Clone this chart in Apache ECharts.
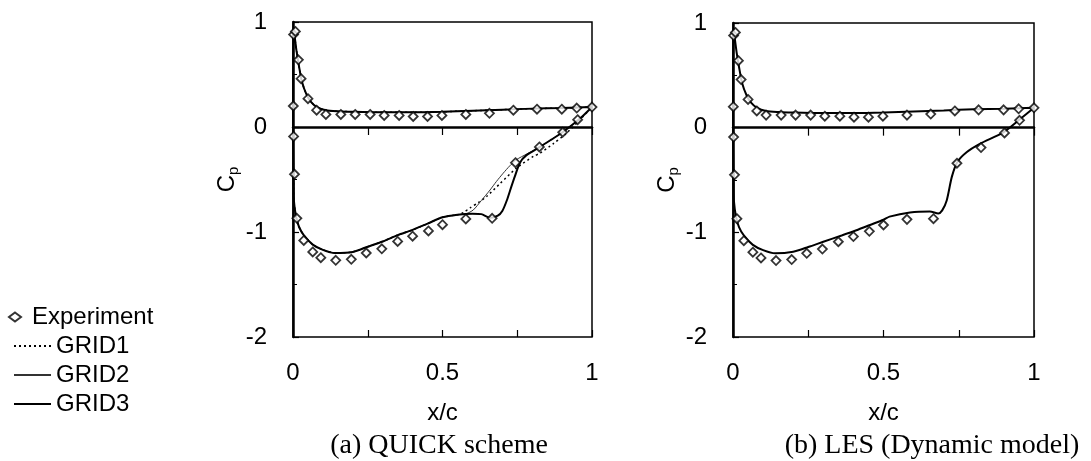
<!DOCTYPE html>
<html>
<head>
<meta charset="utf-8">
<script src="https://cdn.jsdelivr.net/npm/echarts@6/dist/echarts.min.js"></script>
<style>
  html, body { margin: 0; padding: 0; background: #fff; }
  #chart { width: 1091px; height: 461px; }
</style>
</head>
<body>
<div id="chart"></div>
<script>
// experiment (same measured points in both panels): upper surface, then lower
const expX = [0.002, 0.008, 0.018, 0.027, 0.05, 0.079, 0.11, 0.16, 0.208, 0.258, 0.305, 0.355, 0.402, 0.45, 0.498, 0.578, 0.657, 0.737, 0.816, 0.899, 0.949, 1.0,
  0.001, 0.002, 0.005, 0.013, 0.036, 0.066, 0.093, 0.143, 0.195, 0.245, 0.297, 0.35, 0.40, 0.453, 0.50, 0.578, 0.666, 0.744, 0.824, 0.902, 0.952];
const expY = [0.88, 0.91, 0.64, 0.46, 0.27, 0.16, 0.12, 0.12, 0.12, 0.12, 0.11, 0.11, 0.10, 0.10, 0.11, 0.12, 0.13, 0.16, 0.17, 0.17, 0.18, 0.19,
  0.20, -0.09, -0.45, -0.87, -1.08, -1.19, -1.245, -1.27, -1.26, -1.20, -1.16, -1.09, -1.04, -0.99, -0.93, -0.876, -0.87, -0.34, -0.19, -0.05, 0.07];

// computed curves: upper surface from trailing edge to leading edge, down the nose
const upperX = [1.0, 0.95, 0.9, 0.8, 0.7, 0.6, 0.5, 0.4, 0.3, 0.2, 0.15, 0.11, 0.08, 0.06, 0.045, 0.03, 0.02, 0.012, 0.006, 0.002, 0.0005, 0.0, 0.0005, 0.002];
const upperY = [0.19, 0.185, 0.18, 0.175, 0.165, 0.155, 0.145, 0.14, 0.14, 0.145, 0.15, 0.16, 0.19, 0.24, 0.31, 0.43, 0.58, 0.72, 0.85, 0.92, 0.6, 0.2, -0.2, -0.55];

// lower surface, common part for the three grids
const lowerX = [0.003, 0.01, 0.02, 0.036, 0.066, 0.1, 0.14, 0.2, 0.25, 0.3, 0.35, 0.4, 0.45, 0.5, 0.55];
const lowerY = [-0.7, -0.85, -0.95, -1.03, -1.12, -1.17, -1.2, -1.19, -1.14, -1.09, -1.03, -0.98, -0.92, -0.86, -0.835];

// rear part of the lower surface for each grid
const grid1X = [0.57, 0.592, 0.62, 0.648, 0.692, 0.748, 0.804, 0.826, 0.87, 0.91, 0.95, 1.0];
const grid1Y = [-0.815, -0.77, -0.72, -0.66, -0.54, -0.39, -0.28, -0.25, -0.16, -0.07, 0.04, 0.19];
const grid2X = [0.58, 0.603, 0.63, 0.659, 0.68, 0.703, 0.725, 0.748, 0.78, 0.826, 0.864, 0.904, 0.96, 1.0];
const grid2Y = [-0.825, -0.79, -0.70, -0.60, -0.52, -0.44, -0.37, -0.31, -0.26, -0.19, -0.12, -0.045, 0.08, 0.19];
const grid3X = [0.6, 0.63, 0.66, 0.685, 0.7, 0.715, 0.73, 0.742, 0.759, 0.78, 0.826, 0.864, 0.904, 0.96, 1.0];
const grid3Y = [-0.825, -0.83, -0.865, -0.845, -0.8, -0.70, -0.57, -0.47, -0.34, -0.27, -0.19, -0.12, -0.045, 0.08, 0.19];

// LES lower surface
const lesX = [0.003, 0.01, 0.02, 0.036, 0.066, 0.1, 0.14, 0.2, 0.25, 0.3, 0.361, 0.41, 0.455, 0.5, 0.52, 0.588, 0.654, 0.682, 0.695, 0.71, 0.727, 0.745, 0.776, 0.82, 0.898, 0.953, 1.0];
const lesY = [-0.7, -0.85, -0.95, -1.03, -1.12, -1.17, -1.2, -1.185, -1.14, -1.09, -1.03, -0.98, -0.93, -0.88, -0.85, -0.81, -0.80, -0.82, -0.79, -0.695, -0.47, -0.33, -0.235, -0.155, -0.045, 0.08, 0.19];

const xTicks = ["0", "0.5", "1"];
const yTicks = ["-2", "-1", "0", "1"];

const pairs = (xs, ys) => xs.map((x, i) => [x, ys[i]]);
const curve = (tailX, tailY) =>
  pairs(upperX, upperY).concat(pairs(lowerX, lowerY)).concat(pairs(tailX, tailY));

const font = "Liberation Sans";
const serif = "Liberation Serif";

const chart = echarts.init(document.getElementById("chart"), null, { renderer: "canvas" });

function xAxes(gridIndex) {
  return [
    {
      type: "value", gridIndex, min: 0, max: 1, interval: 0.25, position: "bottom",
      axisLine: { lineStyle: { color: "#000", width: 2.5 } },
      axisTick: { show: true, inside: false, length: 8, lineStyle: { color: "#000", width: 1.2 } },
      axisLabel: {
        color: "#000", fontSize: 24, fontFamily: font, margin: 24,
        formatter: (v) => (xTicks.includes(String(v)) ? String(v) : "")
      },
      splitLine: { show: false },
      name: "x/c", nameLocation: "middle", nameGap: 64,
      nameTextStyle: { color: "#000", fontSize: 24, fontFamily: font }
    },
    {
      type: "value", gridIndex, min: 0, max: 1, interval: 0.25, position: "bottom",
      axisLine: { show: false },
      axisTick: { show: true, inside: true, length: 7, lineStyle: { color: "#000", width: 1.2 } },
      axisLabel: { show: false },
      splitLine: { show: false }
    }
  ];
}

function yAxis(gridIndex) {
  return {
    type: "value", gridIndex, min: -2, max: 1, interval: 1,
    axisLine: { show: true, lineStyle: { color: "#000", width: 2.5 } },
    axisTick: { show: true, inside: true, length: 6, lineStyle: { color: "#000", width: 1.2 } },
    minorTick: { show: true, splitNumber: 2, length: 4, lineStyle: { color: "#000", width: 1 } },
    axisLabel: {
      color: "#000", fontSize: 24, fontFamily: font, margin: 26,
      formatter: (v) => (yTicks.includes(String(v)) ? String(v) : "")
    },
    splitLine: { show: false },
    name: "C{s|p}", nameLocation: "middle", nameGap: 52, nameRotate: 90,
    nameTextStyle: {
      color: "#000", fontSize: 24, fontFamily: font,
      rich: { s: { fontSize: 15, fontFamily: font, color: "#000", padding: [12, 0, 0, 0] } }
    }
  };
}

const zeroLine = {
  silent: true, symbol: "none", label: { show: false },
  lineStyle: { color: "#000", width: 1, type: "solid" },
  data: [{ yAxis: 0 }]
};

const expStyle = {
  type: "scatter", name: "Experiment", symbol: "diamond", symbolSize: 9,
  itemStyle: { color: "#fff", borderColor: "#000", borderWidth: 1.8 },
  z: 5
};

const captionStyle = { fontFamily: serif, fontSize: 28, fontWeight: "normal", color: "#000" };

const option = {
  animation: false,
  backgroundColor: "#fff",
  title: [
    { text: "(a) QUICK scheme", left: 434, top: 427, textAlign: "center", textStyle: captionStyle },
    { text: "(b) LES (Dynamic model)", left: 927, top: 427, textAlign: "center", textStyle: captionStyle }
  ],
  legend: [
    {
      data: ["Experiment"], left: 3, top: 300, orient: "vertical",
      itemWidth: 12, itemHeight: 9, itemGap: 5,
      textStyle: { color: "#000", fontSize: 24, fontFamily: font, lineHeight: 24, padding: [0, 0, 0, 6] }
    },
    {
      data: ["GRID1", "GRID2", "GRID3"], left: 8, top: 329, orient: "vertical",
      itemWidth: 37, itemHeight: 10, itemGap: 5,
      itemStyle: { opacity: 0 },
      textStyle: { color: "#000", fontSize: 24, fontFamily: font, lineHeight: 24 }
    }
  ],
  grid: [
    { left: 293, top: 22, width: 299, height: 315, show: true, borderColor: "#000", borderWidth: 1.5, containLabel: false },
    { left: 733, top: 23, width: 301, height: 314, show: true, borderColor: "#000", borderWidth: 1.5, containLabel: false }
  ],
  xAxis: xAxes(0).concat(xAxes(1)),
  yAxis: [yAxis(0), yAxis(1)],
  series: [
    {
      type: "line", name: "GRID1", xAxisIndex: 0, yAxisIndex: 0, data: curve(grid1X, grid1Y),
      symbol: "none", smooth: 0.25, color: "#000", itemStyle: { color: "#000" },
      lineStyle: { color: "#000", width: 1.5, type: [2, 3] }
    },
    {
      type: "line", name: "GRID2", xAxisIndex: 0, yAxisIndex: 0, data: curve(grid2X, grid2Y),
      symbol: "none", smooth: 0.25, color: "#333", itemStyle: { color: "#333" },
      lineStyle: { color: "#333", width: 1 }
    },
    {
      type: "line", name: "GRID3", xAxisIndex: 0, yAxisIndex: 0, data: curve(grid3X, grid3Y),
      symbol: "none", smooth: 0.25, color: "#000", itemStyle: { color: "#000" },
      lineStyle: { color: "#000", width: 2 },
      markLine: zeroLine
    },
    Object.assign({}, expStyle, { xAxisIndex: 0, yAxisIndex: 0, data: pairs(expX, expY) }),
    {
      type: "line", name: "LES", xAxisIndex: 2, yAxisIndex: 1,
      data: pairs(upperX, upperY).concat(pairs(lesX, lesY)),
      symbol: "none", smooth: 0.25, color: "#000", lineStyle: { color: "#000", width: 2 },
      markLine: zeroLine
    },
    Object.assign({}, expStyle, { xAxisIndex: 2, yAxisIndex: 1, data: pairs(expX, expY) })
  ]
};

chart.setOption(option);
</script>
</body>
</html>
